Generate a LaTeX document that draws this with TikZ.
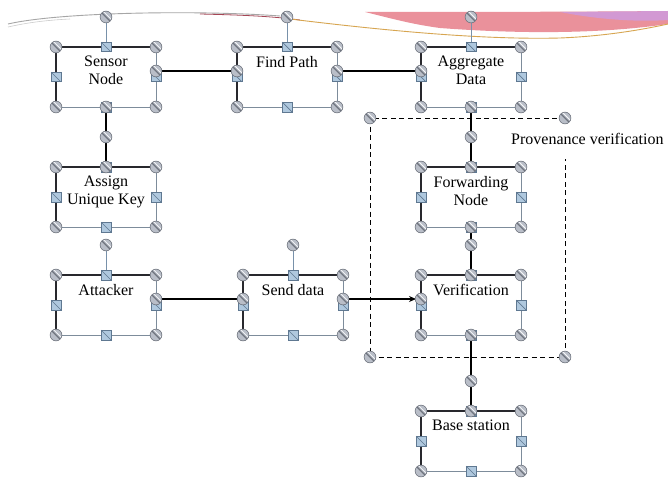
\documentclass[tikz,border=0pt]{standalone}
\usepackage{fontspec}
\setmainfont{Liberation Serif}
\usepackage{tikz}
\usetikzlibrary{arrows.meta,positioning}
\definecolor{frameGray}{RGB}{125,140,155}
\definecolor{edgeDark}{RGB}{40,40,45}
\definecolor{rotBlue}{RGB}{120,145,170}
\definecolor{hdlFill}{RGB}{185,190,200}
\definecolor{hdlEdge}{RGB}{110,115,125}
\definecolor{sqFill}{RGB}{175,200,222}
\definecolor{sqEdge}{RGB}{95,120,145}
\definecolor{bandPink}{RGB}{234,145,155}
\definecolor{bandPurple}{RGB}{205,155,225}
\definecolor{bandGold}{RGB}{215,165,80}
\definecolor{bandRed}{RGB}{165,70,85}
\tikzset{
  flowbox/.style={
    rectangle, draw=frameGray, line width=0.8pt, fill=white,
    minimum width=100pt, minimum height=60pt, inner sep=0pt, outer sep=0pt
  },
  boxtext/.style={anchor=north, yshift=-9pt, align=center, inner sep=0pt,
    font=\fontsize{16}{18}\selectfont},
  connLine/.style={draw=black, line width=1.1pt},
  rotLine/.style={draw=rotBlue, line width=0.8pt},
  rhandle/.pic={
    \filldraw[draw=hdlEdge, fill=hdlFill, line width=0.6pt] (0,0) circle (5.9pt);
    \begin{scope}
      \clip (0,0) circle (5.6pt);
      \draw[hdlEdge, line width=1.3pt] (-6pt,6pt) -- (6pt,-6pt);
      \draw[white, line width=0.7pt] (-3.5pt,6.5pt) -- (6.5pt,-3.5pt);
    \end{scope}
  },
  shandle/.pic={
    \filldraw[draw=sqEdge, fill=sqFill, line width=0.6pt] (-4.8pt,-4.8pt) rectangle (4.8pt,4.8pt);
    \draw[sqEdge, line width=0.7pt] (-4.8pt,4.8pt) -- (4.8pt,-4.8pt);
  }
}
% dark top/left edges and the selection handles of one box
\newcommand{\boxhandles}[1]{%
  \draw[edgeDark, line width=1.4pt] (#1.south west) -- (#1.north west) -- (#1.north east);
  \pic at ([yshift=30pt]#1.north) {rhandle};
  \foreach \a in {north west,north east,south west,south east} {\pic at (#1.\a) {rhandle};}
  \foreach \a in {north,south,east,west} {\pic at (#1.\a) {shandle};}
}

\begin{document}
\begin{tikzpicture}[x=1pt, y=-1pt]
  \fill[white] (0,0) rectangle (668,484);
  \useasboundingbox (0,0) rectangle (668,484);

  % slide band at the top
  \fill[bandPink] (365,12) .. controls (420,12) and (560,12) .. (668,11)
    -- (668,24) .. controls (600,34) and (520,34) .. (440,28)
    .. controls (410,24) and (390,18) .. (365,12);
  \fill[bandPurple, opacity=.8] (560,12) -- (668,11) -- (668,20)
    .. controls (640,22) and (600,20) .. (560,12);
  \draw[gray!70, line width=0.9pt] (8,24) .. controls (60,12) and (200,10) .. (280,16);
  \draw[gray!40, line width=0.6pt] (8,27) .. controls (30,22) and (50,20) .. (70,19);
  \draw[bandRed, line width=0.8pt] (200,14) .. controls (240,15) and (270,16) .. (300,20);
  \draw[bandGold, line width=0.9pt] (290,19) .. controls (380,30) and (480,40) .. (560,38)
    .. controls (610,36) and (650,28) .. (668,24);

  % dashed region
  \node[draw=black, dash pattern=on 5pt off 3.5pt, line width=0.9pt, minimum width=195pt,
        minimum height=239pt, inner sep=0pt, outer sep=0pt] (provbox) at (467.5,237.5) {};

  % boxes
  \node[flowbox, label={[boxtext]north:Sensor\\Node}] (sensor) at (106,77) {};
  \node[flowbox, label={[boxtext]north:Find Path}, right=81pt of sensor] (findpath) {};
  \node[flowbox, label={[boxtext]north:Aggregate\\Data}, right=84pt of findpath] (aggregate) {};
  \node[flowbox, label={[boxtext]north:Assign\\Unique Key}, below=60pt of sensor] (assign) {};
  \node[flowbox, label={[boxtext]north:Attacker}, below=48pt of assign] (attacker) {};
  \node[flowbox, label={[boxtext]north:Send data}, right=87pt of attacker] (senddata) {};
  \node[flowbox, label={[boxtext]north:Forwarding\\Node}, below=60pt of aggregate] (forwarding) {};
  \node[flowbox, label={[boxtext]north:Verification}, below=48pt of forwarding] (verification) {};
  \node[flowbox, label={[boxtext]north:Base station}, below=76pt of verification] (base) {};

  % rotation stubs
  \foreach \b in {sensor,findpath,aggregate,assign,attacker,senddata,forwarding,verification,base}
    \draw[rotLine] (\b.north) -- ([yshift=30pt]\b.north);

  % connectors
  \draw[connLine] ([yshift=6pt]sensor.east) -- ([yshift=6pt]findpath.west);
  \draw[connLine] ([yshift=6pt]findpath.east) -- ([yshift=6pt]aggregate.west);
  \draw[connLine] (sensor.south) -- (assign.north);
  \draw[connLine] ([yshift=6pt]attacker.east) -- ([yshift=6pt]senddata.west);
  \draw[connLine, -{Stealth[length=7pt,width=6pt]}, shorten >=5pt]
    ([yshift=6pt]senddata.east) -- ([yshift=6pt]verification.west);
  \draw[connLine] (aggregate.south) -- (forwarding.north);
  \draw[connLine] (forwarding.south) -- (verification.north);
  \draw[connLine] (verification.south) -- (base.north);

  \node[fill=white, anchor=west, inner xsep=3pt, inner ysep=0pt, minimum height=40pt,
        font=\fontsize{16}{18}\selectfont] (provlabel) at (508,139) {Provenance verification};

  % handles
  \foreach \b in {sensor,findpath,aggregate,assign,attacker,senddata,forwarding,verification,base}
    {\boxhandles{\b}}
  \foreach \p in {sensor.south,aggregate.south,assign.north,forwarding.north,
                  forwarding.south,verification.north,verification.south,base.north}
    \pic at (\p) {rhandle};
  \foreach \p in {sensor.east,findpath.west,findpath.east,aggregate.west,
                  attacker.east,senddata.west,senddata.east,verification.west}
    \pic at ([yshift=6pt]\p) {rhandle};
  \foreach \a in {north west,north east,south west,south east}
    \pic at (provbox.\a) {rhandle};
\end{tikzpicture}
\end{document}
